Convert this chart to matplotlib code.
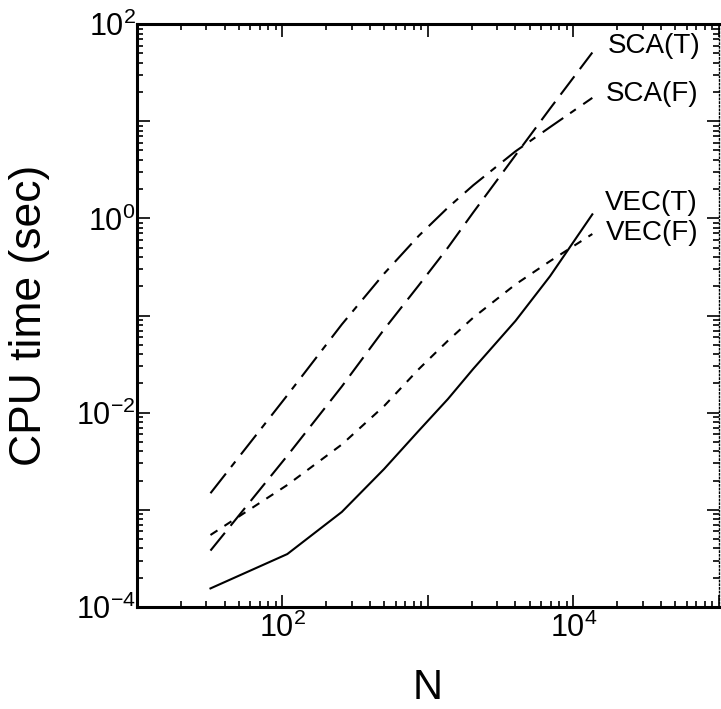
import numpy as np
import matplotlib
matplotlib.use("Agg")
import matplotlib.pyplot as plt
from matplotlib.ticker import LogLocator, FuncFormatter, NullFormatter

plt.rcParams['font.family'] = ['Liberation Sans', 'DejaVu Sans']
plt.rcParams['lines.scale_dashes'] = False

# N = 4 n^3 system sizes, CPU time in seconds
N = [32, 108, 256, 500, 864, 1372, 2048, 4000, 6912, 13500]
sca_t = [3.8e-4, 3.6e-3, 1.86e-2, 7.2e-2, 0.204, 0.50, 1.15, 4.47, 13.5, 51.0]
sca_f = [1.48e-3, 1.51e-2, 8.1e-2, 0.27, 0.66, 1.29, 2.19, 4.9, 8.7, 17.4]
vec_t = [1.55e-4, 3.5e-4, 9.5e-4, 2.63e-3, 6.5e-3, 1.38e-2, 2.82e-2, 8.8e-2, 0.254, 1.1]
vec_f = [5.5e-4, 1.8e-3, 4.7e-3, 1.17e-2, 2.8e-2, 5.5e-2, 9.5e-2, 0.209, 0.363, 0.69]
names = ["SCA(T)", "SCA(F)", "VEC(T)", "VEC(F)"]

fig = plt.figure(figsize=(7.21, 7.09), dpi=100)
ax = fig.add_axes([0.190, 0.144, 0.807, 0.822])

ax.plot(N, sca_t, c='k', lw=1.5, dashes=(16.5, 6.5))
ax.plot(N, sca_f, c='k', lw=1.5, dashes=(18, 6, 5, 6.5))
ax.plot(N, vec_t, c='k', lw=1.5)
ax.plot(N, vec_f, c='k', lw=1.5, dashes=(6, 6))

# curve names next to the last points
offsets = [(11, 5), (10, 3), (9, 8), (10, 1)]
for name, ys, off in zip(names, [sca_t, sca_f, vec_t, vec_f], offsets):
    ax.annotate(name, (N[-1], ys[-1]), xytext=off, textcoords='offset points',
                fontsize=20, va='center', ha='left')

ax.set_xscale('log')
ax.set_yscale('log')
ax.set_xlim(10, 1e5)
ax.set_ylim(1e-4, 1e2)

def fmt(v, pos):
    e = int(round(np.log10(v)))
    if e % 2 == 0:
        return r'$\mathregular{10^{%d}}$' % e
    return ''

for axis in (ax.xaxis, ax.yaxis):
    axis.set_major_locator(LogLocator(base=10, numticks=20))
    axis.set_minor_locator(LogLocator(base=10, subs=np.arange(2, 10), numticks=20))
    axis.set_major_formatter(FuncFormatter(fmt))
    axis.set_minor_formatter(NullFormatter())

ax.tick_params(which='both', direction='in', top=True, right=True, labelsize=22, width=1.2)
ax.tick_params(which='major', length=9, pad=4)
ax.tick_params(which='minor', length=4)
ax.tick_params(axis='y', which='major', pad=1)

for s in ['left', 'bottom', 'top']:
    ax.spines[s].set_linewidth(2.2)
ax.spines['right'].set_linewidth(1.0)
ax.spines['right'].set_linestyle(':')

ax.set_xlabel("N", fontsize=30)
ax.set_ylabel("CPU time (sec)", fontsize=32)
ax.xaxis.set_label_coords(0.5, -0.105)
ax.yaxis.set_label_coords(-0.15, 0.5)

fig.savefig("out.png", dpi=100)
